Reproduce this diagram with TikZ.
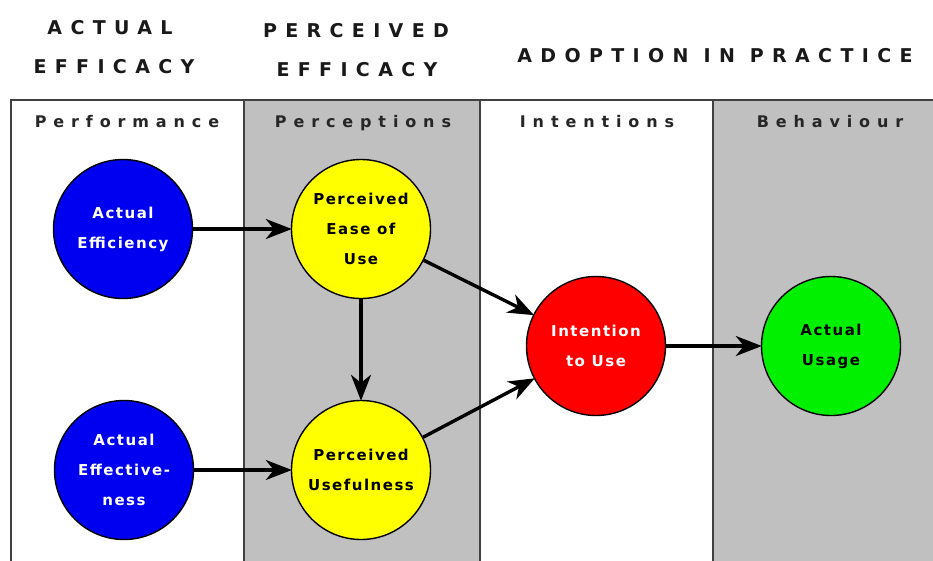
\documentclass[tikz,border=0pt]{standalone}
\usepackage{fontspec}
\usetikzlibrary{arrows.meta}
\setmainfont{DejaVu Sans}
\newfontfamily\titlefont[LetterSpace=44]{DejaVu Sans Bold}
\newfontfamily\headfont[LetterSpace=43]{DejaVu Sans Bold}
\newfontfamily\nodefont[LetterSpace=10]{DejaVu Sans Bold}
\definecolor{panelgray}{HTML}{C0C0C0}
\definecolor{framegray}{HTML}{404040}
\definecolor{effblue}{HTML}{0000F0}
\definecolor{percyellow}{HTML}{FFFF00}
\definecolor{intred}{HTML}{FF0000}
\definecolor{usegreen}{HTML}{00F000}
\tikzset{
  title/.style={font=\titlefont\fontsize{19}{20}\selectfont, text=black!90, anchor=base, inner sep=0pt},
  colhead/.style={font=\headfont\fontsize{16}{18}\selectfont, text=black!85, anchor=base, inner sep=0pt},
  factor/.style={circle, draw=black, line width=1.4pt, minimum size=139pt, inner sep=0pt,
    align=center, font=\nodefont\fontsize{15}{30}\selectfont},
  link/.style={line width=3.4pt, -{Stealth[length=26pt,width=20pt,inset=8pt]}, shorten >=-1pt},
  divider/.style={draw=framegray, line width=2.2pt}
}
\begin{document}
\begin{tikzpicture}[x=1pt,y=-1pt]
\useasboundingbox (0,0) rectangle (933,560);
% shaded columns
\fill[panelgray] (244,100) rectangle (480,562);
\fill[panelgray] (713,100) rectangle (935,562);
% frame and column dividers
\draw[divider] (11,562) -- (11,100) -- (935,100);
\draw[divider] (244,100) -- (244,562);
\draw[divider] (480,100) -- (480,562);
\draw[divider] (713,100) -- (713,562);
% group titles
\node[title] (tActualA) at (110,34) {ACTUAL};
\node[title] (tActualB) at (114,73) {EFFICACY};
\node[title] (tPerceivedA) at (356,37) {PERCEIVED};
\node[title] (tPerceivedB) at (357,76) {EFFICACY};
\node[title] (tAdoption) at (715,62) {ADOPTION IN PRACTICE};
% column headings
\node[colhead] (hPerf) at (127,127) {Performance};
\node[colhead] (hPerc) at (363,127) {Perceptions};
\node[colhead] (hInt) at (597,127) {Intentions};
\node[colhead] (hBeh) at (830,127) {Behaviour};
% factors
\node[factor, fill=effblue, text=white] (efficiency) at (123,229) {Actual\\Efficiency};
\node[factor, fill=effblue, text=white] (effectiveness) at (124,470) {Actual\\Effective-\\ness};
\node[factor, fill=percyellow, text=black] (ease) at (361,229) {Perceived\\Ease of\\Use};
\node[factor, fill=percyellow, text=black] (useful) at (361,470) {Perceived\\Usefulness};
\node[factor, fill=intred, text=white] (intent) at (596,346) {Intention\\to Use};
\node[factor, fill=usegreen, text=black] (usage) at (831,346) {Actual\\Usage};
% causal links
\draw[link] (efficiency) -- (ease);
\draw[link] (effectiveness) -- (useful);
\draw[link] (ease) -- (useful);
\draw[link] (ease) -- (intent);
\draw[link] (useful) -- (intent);
\draw[link] (intent) -- (usage);
\end{tikzpicture}
\end{document}
